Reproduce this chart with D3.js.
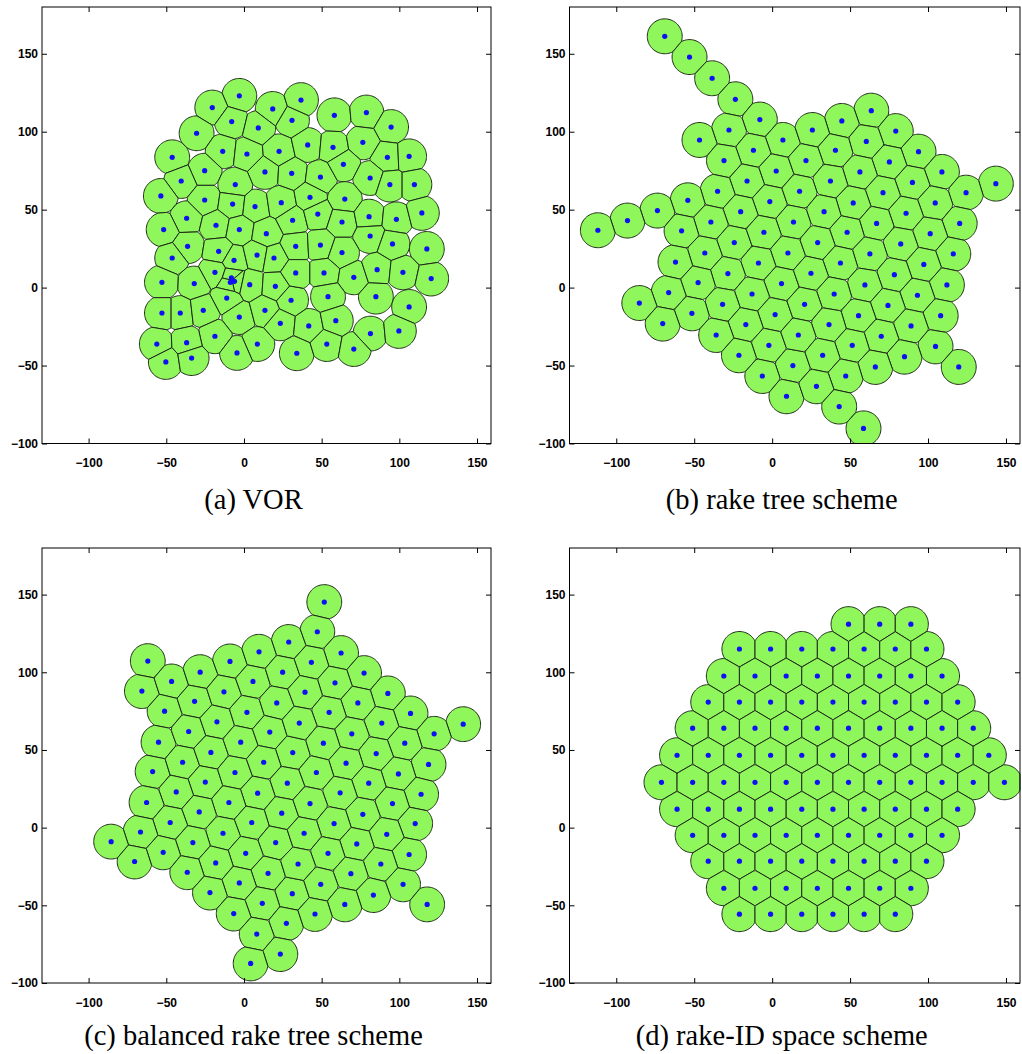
<!DOCTYPE html>
<html>
<head>
<meta charset="utf-8">
<script src="https://cdn.jsdelivr.net/npm/d3@7"></script>
<style>
  body { margin: 0; background: #fff; }
  .tick text { font: bold 12px 'Liberation Sans', Arial, sans-serif; fill: #000; }
  .caption { font: 28.5px 'Liberation Serif', 'Times New Roman', serif; fill: #000; }
</style>
</head>
<body>
<div id="chart"></div>
<script>
const width = 1022;
const height = 1054;

// Axis settings shared by the four panels
const xTicks = [-100, -50, 0, 50, 100, 150];
const yTicks = [-100, -50, 0, 50, 100, 150];
const xDomain = [-130, 159];
const yDomain = [-100, 180];
const sensingRadius = 11.2;

// (a) VOR: sensor positions
const vorPoints = [
  [-3, 123], [-20.4, 115.5], [18.5, 114.6], [-7.9, 106.5], [30.9, 107.3], [-30.5, 99], [9.2, 102.4],
  [-13.7, 87.4], [1.9, 85.7], [22.6, 87.4], [-46.2, 83.6], [-25.3, 75], [13.5, 74.2], [30.7, 73.3],
  [-40.4, 68.4], [-5.6, 66.1], [-53.5, 58.8], [-25.3, 56.2], [-7.3, 53.6], [7.1, 52], [24, 54.5],
  [-36.9, 44.5], [-18, 40], [31.3, 43.2], [36.7, 120.3], [58.2, 110.5], [78.8, 112.3], [94.7, 103],
  [41, 91.5], [57.3, 90], [76.5, 93.2], [92.3, 83.6], [106.3, 84.2], [49.2, 70.9], [64, 79.1],
  [81.2, 70.3], [93.9, 66.1], [109.7, 66.1], [42.5, 57.9], [64.9, 56.8], [47.5, 47.2], [63.1, 42.1],
  [80.5, 45.5], [98.1, 43.8], [114.5, 47.9], [-51.7, 37.2], [-3, 37.2], [14.4, 34.6], [-36.3, 26.5],
  [-16.3, 23.3], [-46.2, 19], [-6.4, 17.5], [8.4, 20.9], [19.3, 19], [-18.7, 9.8], [-8.1, 6.3],
  [-6.1, 4], [-8.8, 3.4], [3.7, 1.9], [20.2, 0.8], [-52.8, 3.4], [-32, 2.6], [-11.1, -6.7], [30.3, -8.1],
  [-52.8, -16.3], [-41, -16.3], [-26.2, -14.6], [-3, -18.9], [13.5, -14.6], [23.4, -22.9],
  [-18.7, -31.2], [-56.1, -36.2], [-36.9, -35.3], [8.6, -36.2], [-4.5, -41.9], [-50.3, -47.7],
  [-33.7, -45.2], [81.2, 33.1], [95.6, 28], [117.7, 24.8], [33.3, 26.5], [49.2, 27.3], [63.1, 22.5],
  [33.3, 9.4], [51.5, 9.4], [70.7, 6.6], [85.7, 11.5], [102.3, 9.8], [120.5, 5.8], [54.1, -5.8],
  [84.9, -5.8], [106.3, -12.4], [41.7, -24.6], [59.1, -21.2], [81.4, -29.5], [99.7, -27.8],
  [34, -42.1], [53.3, -36.2], [70.7, -39.4]
];

// (b) rake tree scheme
const rakePoints = [
  [-68.9, 161.2], [-53, 147.9], [-38.5, 134.3], [-23.6, 120.8], [-7.9, 107.8], [-27.7, 101.1],
  [-46.6, 94.7], [6.9, 94.7], [-12, 88.1], [-30.9, 81.5], [2.6, 74.8], [-16.1, 68.4], [-35, 61.8],
  [-54.1, 56], [-1.5, 55.2], [-73.6, 49.4], [-20.2, 48.7], [-39.3, 42.1], [-92.8, 43], [-111.8, 36.8],
  [-58.1, 36.4], [63.6, 113.5], [44.7, 106.9], [25.8, 101.1], [79.3, 100.4], [60.4, 93.8],
  [40.6, 88.1], [93.9, 87.2], [21.7, 81.5], [75.2, 80.6], [56.3, 74.2], [108.9, 74.2], [37.4, 68.4],
  [90, 67.5], [143.5, 66.7], [17.6, 61.8], [124.4, 60.9], [71.1, 60.9], [52, 54.3], [104.6, 54.3],
  [33.3, 48.7], [85.9, 47.7], [13.7, 42.1], [67, 41.2], [120.3, 41.2], [-24.3, 28.9], [-5.3, 35.5],
  [-43.2, 22.2], [-62, 16.4], [10.1, 22.2], [-8.8, 15.8], [-28.4, 9], [-47.5, 3.2], [6, 2.6],
  [-66.4, -3.2], [-12.9, -4.1], [-85.2, -9.9], [-31.8, -10.7], [-51.5, -16.5], [1.9, -17.3],
  [-70.2, -23.1], [-16.9, -23.7], [-35.9, -30.4], [-2.1, -37], [-21.3, -43.4], [13.3, -50],
  [-6.3, -56.7], [9.2, -69.7], [48.1, 35.5], [101.4, 34.6], [29.2, 28.9], [82.5, 28], [116.2, 21.6],
  [62.7, 21.6], [43.8, 15.8], [97.3, 14.9], [24.9, 9.2], [78.4, 8.3], [112.1, 1.7], [59.5, 1.7],
  [39.8, -4.1], [93.2, -4.9], [20.8, -10.7], [74.3, -11.4], [108.1, -18], [55.4, -18], [36.5, -23.7],
  [89.1, -24.6], [16.8, -30.4], [70, -31.2], [104.8, -37.7], [51.4, -37], [32.4, -43.4],
  [84.9, -44.3], [119.7, -50.9], [66.2, -50.9], [47.2, -56.7], [28.4, -63.3], [43, -76.3],
  [58.6, -90.3]
];

// (c) balanced rake tree scheme
const balancedPoints = [
  [-61.9, 107.2], [-65.7, 87.9], [-46.6, 94.1], [-28.2, 100.1], [-9, 107], [9.7, 113.2], [28.8, 119.5],
  [-51.1, 75], [-31.8, 81.3], [-12.9, 87.4], [5.8, 94.1], [24.9, 100.1], [-55, 55], [-35.6, 61.9],
  [-17.4, 68.1], [1.9, 74.2], [21.1, 80.3], [-58.8, 36.1], [-39.5, 42.1], [-21.3, 48.4], [-2.1, 55],
  [16.6, 61.5], [31.4, 48.3], [-24.9, 29.3], [-5.8, 35.5], [12.7, 42.1], [27.9, 28.6], [51.7, 145.2],
  [47.2, 126.1], [62.5, 112.4], [43.4, 106.4], [77.3, 99.5], [58.6, 93.2], [39.3, 87.2], [92.6, 86.4],
  [73.3, 80.3], [54.8, 74.2], [35.6, 67.3], [107.2, 73.5], [141.1, 66.6], [88.7, 67.3], [69.4, 60.4],
  [122.4, 60.4], [51.1, 54.4], [103.5, 54.4], [85.1, 47.7], [65.7, 41.5], [118.8, 40.7], [46.6, 35.5],
  [99.4, 34.6], [80.3, 28.6], [-43.6, 23], [8.8, 22.2], [-62.7, 16.2], [-9.7, 16.2], [-28.8, 10.1],
  [24.3, 9.3], [-47.5, 3.3], [5, 3.3], [-66.6, -2.8], [-13.5, -3.6], [-85.5, -9], [-32.9, -9.6],
  [20.4, -9.6], [-52, -15.9], [1.1, -16.5], [-70.4, -21.8], [-18.2, -22.7], [15.5, -29.4],
  [-36.5, -28.7], [-3, -35.6], [31.1, -42.5], [-21.9, -41.8], [11.8, -48.7], [-6.6, -55.3],
  [27.3, -61.6], [8.2, -68.5], [23.4, -81.4], [4.3, -87.4], [114, 21.5], [61.9, 22.4], [42.5, 15.5],
  [95.6, 15.5], [76.5, 8.6], [110.2, 2.6], [58, 2.6], [38.7, -3.6], [91.9, -4.3], [72.6, -10.5],
  [106.3, -17.3], [54.1, -16.5], [34.8, -23.4], [88.1, -23.4], [68.8, -29.6], [102.4, -36.5],
  [49.4, -36.5], [83.3, -43.4], [64.9, -49.4], [117.9, -49.4], [45.7, -55.6]
];

// (d) rake-ID space scheme: rows of the lattice, top to bottom
const idRowY = [131, 115, 97.6, 80.8, 64, 46.6, 29.2, 11.9, -4.9, -21.6, -39, -55.7];
const idRowX = [
  [49, 69, 89],
  [-21, -1, 19, 39, 59, 79, 99],
  [-31, -11, 9, 29, 49, 69, 89, 109],
  [-41, -21, -1, 19, 39, 59, 79, 99, 119],
  [-51, -31, -11, 9, 29, 49, 69, 89, 109, 129],
  [-61, -41, -21, -1, 19, 39, 59, 79, 99, 119, 139],
  [-71, -51, -31, -11, 9, 29, 49, 69, 89, 109, 129, 149],
  [-61, -41, -21, -1, 19, 39, 59, 79, 99, 119],
  [-51, -31, -11, 9, 29, 49, 69, 89, 109],
  [-41, -21, -1, 19, 39, 59, 79, 99],
  [-31, -11, 9, 29, 49, 69, 89],
  [-21, -1, 19, 39, 59, 79]
];
const idPoints = idRowX.flatMap((xs, r) => xs.map(v => [v, idRowY[r]]));

const panels = [
  { caption: '(a) VOR', points: vorPoints, left: 42, right: 491, top: 7, bottom: 443.5, captionGap: 65 },
  { caption: '(b) rake tree scheme', points: rakePoints, left: 569.5, right: 1020, top: 7, bottom: 443.5, captionGap: 65 },
  { caption: '(c) balanced rake tree scheme', points: balancedPoints, left: 42, right: 491, top: 548, bottom: 983, captionGap: 62 },
  { caption: '(d) rake-ID space scheme', points: idPoints, left: 569.5, right: 1020, top: 548, bottom: 983, captionGap: 62 }
];

// Clip a convex polygon (the sensing disc) against a convex Voronoi cell
function clipConvex(subject, cell) {
  let area = 0;
  for (let i = 0; i < cell.length - 1; i++) {
    area += cell[i][0] * cell[i + 1][1] - cell[i + 1][0] * cell[i][1];
  }
  const s = area >= 0 ? 1 : -1;
  let output = subject;
  for (let i = 0; i < cell.length - 1 && output.length; i++) {
    const a = cell[i], b = cell[i + 1];
    const ex = b[0] - a[0], ey = b[1] - a[1];
    const inside = p => s * (ex * (p[1] - a[1]) - ey * (p[0] - a[0])) >= 0;
    const cut = function (p, q) {
      const dx = q[0] - p[0], dy = q[1] - p[1];
      const t = ((a[0] - p[0]) * ey - (a[1] - p[1]) * ex) / (dx * ey - dy * ex);
      return [p[0] + t * dx, p[1] + t * dy];
    };
    const input = output;
    output = [];
    for (let j = 0; j < input.length; j++) {
      const cur = input[j], prev = input[(j + input.length - 1) % input.length];
      const ci = inside(cur), pi = inside(prev);
      if (ci) {
        if (!pi) output.push(cut(prev, cur));
        output.push(cur);
      } else if (pi) {
        output.push(cut(prev, cur));
      }
    }
  }
  return output;
}

const svg = d3.select('#chart')
  .append('svg')
  .attr('width', width)
  .attr('height', height);

panels.forEach(function (p) {
  const x = d3.scaleLinear().domain(xDomain).range([p.left, p.right]);
  const y = d3.scaleLinear().domain(yDomain).range([p.bottom, p.top]);
  const g = svg.append('g');

  // Voronoi cells in screen space, each limited to the sensing disc
  const projected = p.points.map(d => [x(d[0]), y(d[1])]);
  const rPx = x(sensingRadius) - x(0);
  const voronoi = d3.Delaunay.from(projected).voronoi([p.left, p.top, p.right, p.bottom]);
  const shapes = [];
  projected.forEach(function (c, i) {
    const poly = voronoi.cellPolygon(i);
    if (!poly) return;
    const disc = d3.range(90).map(k => [
      c[0] + rPx * Math.cos(2 * Math.PI * k / 90),
      c[1] + rPx * Math.sin(2 * Math.PI * k / 90)
    ]);
    const clipped = clipConvex(disc, poly);
    if (clipped.length > 2) shapes.push(clipped);
  });

  g.selectAll('.cell')
    .data(shapes)
    .enter()
    .append('path')
    .attr('class', 'cell')
    .attr('d', d => 'M' + d.map(q => q[0].toFixed(2) + ',' + q[1].toFixed(2)).join('L') + 'Z')
    .style('fill', '#8ff75c')
    .style('stroke', '#1e2a18')
    .style('stroke-width', 1)
    .style('stroke-linejoin', 'round');

  g.selectAll('.node')
    .data(p.points)
    .enter()
    .append('circle')
    .attr('class', 'node')
    .attr('cx', d => x(d[0]))
    .attr('cy', d => y(d[1]))
    .attr('r', 2.6)
    .style('fill', '#1010f5');

  // Box axes with inward ticks on all four sides
  g.append('g')
    .attr('transform', 'translate(0,' + p.bottom + ')')
    .call(d3.axisBottom(x).tickValues(xTicks).tickSizeInner(-5).tickSizeOuter(0).tickPadding(15))
    .call(a => a.select('.domain').remove());
  g.append('g')
    .attr('transform', 'translate(0,' + p.top + ')')
    .call(d3.axisTop(x).tickValues(xTicks).tickSizeInner(-5).tickSizeOuter(0).tickFormat(''))
    .call(a => a.select('.domain').remove());
  g.append('g')
    .attr('transform', 'translate(' + p.left + ',0)')
    .call(d3.axisLeft(y).tickValues(yTicks).tickSizeInner(-5).tickSizeOuter(0).tickPadding(4))
    .call(a => a.select('.domain').remove());
  g.append('g')
    .attr('transform', 'translate(' + p.right + ',0)')
    .call(d3.axisRight(y).tickValues(yTicks).tickSizeInner(-5).tickSizeOuter(0).tickFormat(''))
    .call(a => a.select('.domain').remove());

  g.selectAll('.tick line').style('stroke', '#000');

  g.append('rect')
    .attr('x', p.left)
    .attr('y', p.top)
    .attr('width', p.right - p.left)
    .attr('height', p.bottom - p.top)
    .style('fill', 'none')
    .style('stroke', '#000')
    .style('stroke-width', 1);

  svg.append('text')
    .attr('class', 'caption')
    .attr('x', (p.left + p.right) / 2 - 13)
    .attr('y', p.bottom + p.captionGap)
    .attr('text-anchor', 'middle')
    .text(p.caption);
});
</script>
</body>
</html>
